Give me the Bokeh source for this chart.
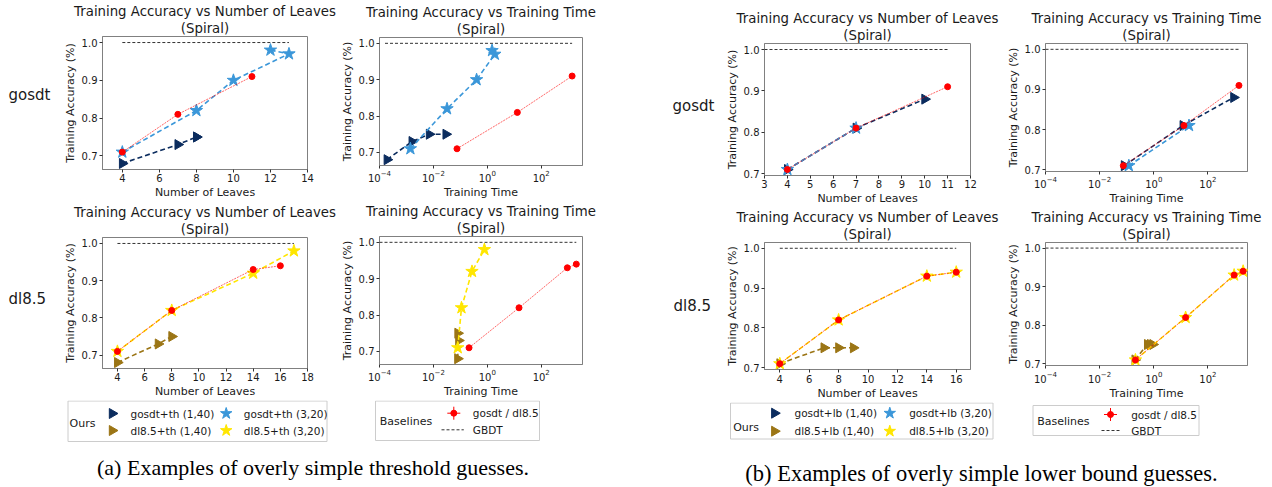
import numpy as np
from bokeh.plotting import figure
from bokeh.layouts import row, column
from bokeh.models import Range1d, FixedTicker, PrintfTickFormatter, Title
from bokeh.core.properties import value
from bokeh.embed import file_html
from bokeh.resources import INLINE

# ---------------- data ----------------
# baselines (shared by both groups)
gosdt_base_leaves = [4, 7, 11]
gosdt_base_acc = [0.71, 0.81, 0.91]
gosdt_base_time = [0.075, 13, 1400]
dl85_base_leaves = [4, 8, 14, 16]
dl85_base_acc = [0.71, 0.82, 0.93, 0.94]
dl85_base_time = [0.21, 15, 930, 2000]

# (a) threshold guesses
gosdt_th140_leaves = [4, 7, 8, 8]
gosdt_th140_acc = [0.68, 0.73, 0.75, 0.75]
gosdt_th140_time = [1.9e-4, 1.6e-3, 7e-3, 0.029]
gosdt_th320_leaves = [4, 8, 10, 13, 12]
gosdt_th320_acc = [0.71, 0.82, 0.90, 0.97, 0.98]
gosdt_th320_time = [1.4e-3, 0.032, 0.4, 1.9, 1.5]
dl85_th140_leaves = [4, 7, 8]
dl85_th140_acc = [0.68, 0.73, 0.75]
dl85_th140_time = [0.079, 0.086, 0.080]
dl85_th320_leaves = [4, 8, 14, 17]
dl85_th320_acc = [0.71, 0.82, 0.92, 0.98]
dl85_th320_time = [0.080, 0.11, 0.27, 0.78]

# (b) lower bound guesses
gosdt_lb140_leaves = [4, 7, 10]
gosdt_lb140_acc = [0.71, 0.81, 0.88]
gosdt_lb140_time = [0.081, 12, 890]
gosdt_lb320_leaves = [4, 7]
gosdt_lb320_acc = [0.71, 0.81]
gosdt_lb320_time = [0.12, 20]
dl85_lb140_leaves = [4, 7, 8, 9]
dl85_lb140_acc = [0.71, 0.75, 0.75, 0.75]
dl85_lb140_time = [0.2, 0.58, 0.75, 0.92]
dl85_lb320_leaves = [4, 8, 14, 16]
dl85_lb320_acc = [0.71, 0.82, 0.93, 0.94]
dl85_lb320_time = [0.21, 15, 930, 2000]

# GBDT reference accuracy and its horizontal extent per panel
gbdt_acc = 1.0
gbdt_a_leaves_top = [4, 13]
gbdt_a_time_top = [1.6e-4, 1400]
gbdt_a_leaves_bot = [4, 17]
gbdt_a_time_bot = [1e-4, 2000]
gbdt_b_leaves_top = [3, 11]
gbdt_b_time_top = [1e-4, 1400]
gbdt_b_leaves_bot = [4, 16]
gbdt_b_time_bot = [1e-4, 2000]

acc_ticks = [0.7, 0.8, 0.9, 1.0]
time_ticks = [1e-4, 1e-2, 1, 1e2]

# ---------------- styles ----------------
FONT = "DejaVu Sans"
TXT = "#1a1a1a"
NAVY = "#0b2c5e"
SKY = "#3b97d9"
BROWN = "#9b7515"
YELLOW = "#ffe600"
RED = "#ff0000"
SPINE = "#808080"

T_LEAVES = "Training Accuracy vs Number of Leaves"
T_TIME = "Training Accuracy vs Training Time"


def panel(w, h, borders, xr, yr, xlog, xticks, title, xlabel, series, gbdt_x, xstand=(1, 1)):
    l, r, t, b = borders
    p = figure(width=w, height=h, x_range=Range1d(*xr), y_range=Range1d(*yr),
               x_axis_type="log" if xlog else "linear", title=None,
               output_backend="svg", toolbar_location=None,
               min_border_left=l, min_border_right=r, min_border_top=t, min_border_bottom=b)
    p.add_layout(Title(text="(Spiral)", align="center", text_font=FONT, text_font_size="13.3px",
                       text_font_style="normal", text_color=TXT, standoff=1), "above")
    p.add_layout(Title(text=title, align="center", text_font=FONT, text_font_size="13.3px",
                       text_font_style="normal", text_color=TXT, standoff=0), "above")
    p.grid.visible = False
    p.outline_line_color = SPINE
    p.outline_line_width = 1
    p.background_fill_color = "white"
    p.border_fill_color = None
    p.xaxis.axis_label = xlabel
    p.yaxis.axis_label = "Training Accuracy (%)"
    p.yaxis.ticker = FixedTicker(ticks=acc_ticks)
    p.yaxis.formatter = PrintfTickFormatter(format="%.1f")
    p.xaxis.ticker = FixedTicker(ticks=xticks)
    for ax in (p.xaxis[0], p.yaxis[0]):
        ax.major_label_text_font = FONT
        ax.major_label_text_font_size = "10px"
        ax.major_label_text_color = TXT
        ax.axis_label_text_font = FONT
        ax.axis_label_text_font_size = "11px"
        ax.axis_label_text_font_style = "normal"
        ax.axis_label_text_color = TXT
        ax.major_tick_out = 3
        ax.major_tick_in = 0
        ax.minor_tick_out = 0
        ax.minor_tick_in = 0
        ax.axis_line_color = SPINE
        ax.major_tick_line_color = "#333333"
    p.yaxis.major_label_standoff = 2
    p.yaxis.axis_label_standoff = 2
    p.xaxis.major_label_standoff = xstand[0]
    p.xaxis.axis_label_standoff = xstand[1]
    # GBDT
    p.line(gbdt_x, [gbdt_acc] * len(gbdt_x), line_color="#333333", line_width=1, line_dash="3 2")
    for (xs, ys, kind) in series:
        if kind in ("tri_navy", "tri_brown"):
            c = NAVY if kind == "tri_navy" else BROWN
            p.line(xs, ys, line_color=c, line_width=1.6, line_dash="5 3")
            p.scatter(xs, ys, marker="triangle", size=10, angle=-np.pi / 2,
                      fill_color=c, line_color=c)
        elif kind in ("star_sky", "star_yellow"):
            c = SKY if kind == "star_sky" else YELLOW
            p.line(xs, ys, line_color=c, line_width=1.6, line_dash="5 3")
            p.scatter(xs, ys, marker="star", size=13, fill_color=c, line_color=c)
        else:
            p.line(xs, ys, line_color=RED, line_width=1, line_dash="2 1", line_alpha=0.6)
            p.scatter(xs, ys, marker="circle", size=6, fill_color=RED, line_color=RED)
    return p


YR_A = (0.664, 1.016)
YR_B = (0.6955, 1.0145)
XT_MAX_A = 3400
XT_MAX_B = 2900

# group (a): lab 60 | 277 | 263  -> x 0..600 ; panels y 0..400, legend/caption 400..486
a_tl = panel(277, 201, (40, 30, 36, 30), (2.93, 14.0), YR_A, False, [4, 6, 8, 10, 12, 14],
             T_LEAVES, "Number of Leaves",
             [(gosdt_th140_leaves, gosdt_th140_acc, "tri_navy"),
              (gosdt_th320_leaves, gosdt_th320_acc, "star_sky"),
              (gosdt_base_leaves, gosdt_base_acc, "base")], gbdt_a_leaves_top)
a_tr = panel(263, 201, (41, 18, 37, 30), (1e-4, XT_MAX_A), YR_A, True, time_ticks,
             T_TIME, "Training Time",
             [(gosdt_th140_time, gosdt_th140_acc, "tri_navy"),
              (gosdt_th320_time, gosdt_th320_acc, "star_sky"),
              (gosdt_base_time, gosdt_base_acc, "base")], gbdt_a_time_top)
a_bl = panel(277, 199, (40, 30, 36, 30), (2.9, 18.0), YR_A, False, [4, 6, 8, 10, 12, 14, 16, 18],
             T_LEAVES, "Number of Leaves",
             [(dl85_th140_leaves, dl85_th140_acc, "tri_brown"),
              (dl85_th320_leaves, dl85_th320_acc, "star_yellow"),
              (dl85_base_leaves, dl85_base_acc, "base")], gbdt_a_leaves_bot)
a_br = panel(263, 199, (42, 15, 33, 32), (1e-4, XT_MAX_A), YR_A, True, time_ticks,
             T_TIME, "Training Time",
             [(dl85_th140_time, dl85_th140_acc, "tri_brown"),
              (dl85_th320_time, dl85_th320_acc, "star_yellow"),
              (dl85_base_time, dl85_base_acc, "base")], gbdt_a_time_bot)

# group (b): lab 120 | 283 | 268 -> x 600..1271 ; panels y 0..402, legend/caption 402..486
b_tl = panel(283, 207, (44, 33, 43, 30), (3.0, 12.0), YR_B, False, list(range(3, 13)),
             T_LEAVES, "Number of Leaves",
             [(gosdt_lb140_leaves, gosdt_lb140_acc, "tri_navy"),
              (gosdt_lb320_leaves, gosdt_lb320_acc, "star_sky"),
              (gosdt_base_leaves, gosdt_base_acc, "base")], gbdt_b_leaves_top)
b_tr = panel(268, 207, (39, 24, 43, 30), (1e-4, XT_MAX_B), YR_B, True, time_ticks,
             T_TIME, "Training Time",
             [(gosdt_lb140_time, gosdt_lb140_acc, "tri_navy"),
              (gosdt_lb320_time, gosdt_lb320_acc, "star_sky"),
              (gosdt_base_time, gosdt_base_acc, "base")], gbdt_b_time_top)
b_bl = panel(283, 195, (44, 33, 31, 31), (2.96, 16.97), YR_B, False, [4, 6, 8, 10, 12, 14, 16],
             T_LEAVES, "Number of Leaves",
             [(dl85_lb140_leaves, dl85_lb140_acc, "tri_brown"),
              (dl85_lb320_leaves, dl85_lb320_acc, "star_yellow"),
              (dl85_base_leaves, dl85_base_acc, "base")], gbdt_b_leaves_bot, xstand=(2, 1))
b_br = panel(268, 195, (39, 24, 31, 31), (1e-4, XT_MAX_B), YR_B, True, time_ticks,
             T_TIME, "Training Time",
             [(dl85_lb140_time, dl85_lb140_acc, "tri_brown"),
              (dl85_lb320_time, dl85_lb320_acc, "star_yellow"),
              (dl85_base_time, dl85_base_acc, "base")], gbdt_b_time_bot, xstand=(2, 1))


def blank(w, h, xr, yr):
    p = figure(width=w, height=h, x_range=Range1d(*xr), y_range=Range1d(*yr),
               x_axis_type=None, y_axis_type=None, output_backend="svg",
               toolbar_location=None, min_border=0, title=None)
    p.outline_line_color = None
    p.background_fill_color = None
    p.border_fill_color = None
    return p


# row labels (coordinates = page pixels, alphabetic baselines)
lab_a = blank(60, 400, (0, 60), (400, 0))
lab_a.text(x=[8, 8], y=[94, 298], text=["gosdt", "dl8.5"], text_font=value(FONT),
           text_font_size="15px", text_color=TXT, text_baseline="alphabetic", text_align="left")
lab_b = blank(120, 402, (600, 720), (402, 0))
lab_b.text(x=[672, 673], y=[105, 305], text=["gosdt", "dl8.5"], text_font=value(FONT),
           text_font_size="15px", text_color=TXT, text_baseline="alphabetic", text_align="left")

LEG = "10.5px"


def ours_legend(p, x0, y_ours, r1, r2, m1, t1, m2, t2, suffix):
    p.text(x=[x0], y=[y_ours], text=["Ours"], text_font=value(FONT), text_font_size="11px",
           text_color=TXT, text_baseline="middle")
    p.scatter([m1], [r1], marker="triangle", size=10, angle=-np.pi / 2, color=NAVY)
    p.scatter([m1], [r2], marker="triangle", size=10, angle=-np.pi / 2, color=BROWN)
    p.scatter([m2], [r1], marker="star", size=12, color=SKY)
    p.scatter([m2], [r2], marker="star", size=12, color=YELLOW)
    p.text(x=[t1, t1, t2, t2], y=[r1, r2, r1, r2],
           text=[f"gosdt+{suffix} (1,40)", f"dl8.5+{suffix} (1,40)",
                 f"gosdt+{suffix} (3,20)", f"dl8.5+{suffix} (3,20)"],
           text_font=value(FONT), text_font_size=LEG, text_color=TXT, text_baseline="middle")


def base_legend(p, x0, yb, mx, ry1, ry2, tx, gx0, gx1):
    p.text(x=[x0], y=[yb], text=["Baselines"], text_font=value(FONT), text_font_size="11px",
           text_color=TXT, text_baseline="middle")
    p.scatter([mx], [ry1], marker="cross", size=13, line_color=RED, line_width=1)
    p.scatter([mx], [ry1], marker="circle", size=6, color=RED)
    p.line([gx0, gx1], [ry2, ry2], line_color="#333333", line_width=1, line_dash="3 2")
    p.text(x=[tx, tx], y=[ry1, ry2], text=["gosdt / dl8.5", "GBDT"], text_font=value(FONT),
           text_font_size=LEG, text_color=TXT, text_baseline="middle")


# legends + captions (coordinates = page pixels)
bot_a = blank(600, 86, (0, 600), (486, 400))
bot_a.quad(left=[67.5, 375], right=[326.5, 539], top=[400.5, 400.5], bottom=[441, 440],
           fill_color="white", line_color="#cccccc", line_width=1)
ours_legend(bot_a, 69, 423, 413, 430, 111.7, 130, 225.7, 243.3, "th")
base_legend(bot_a, 379.3, 420.7, 453.3, 412.7, 429.3, 472.3, 441, 463.3)
bot_a.text(x=[312.5], y=[467], text=["(a) Examples of overly simple threshold guesses."],
           text_font=value("Liberation Serif"), text_font_size="22px", text_color="#000000",
           text_align="center", text_baseline="middle")

bot_b = blank(671, 84, (600, 1271), (486, 402))
bot_b.quad(left=[730, 1032.5], right=[992.5, 1198.5], top=[402.5, 405], bottom=[438.5, 435],
           fill_color="white", line_color="#cccccc", line_width=1)
ours_legend(bot_b, 732.7, 426.7, 412.7, 430.7, 774, 794, 889.3, 908.7, "lb")
base_legend(bot_b, 1036.7, 420.7, 1110, 414, 430, 1130.7, 1101, 1119.3)
bot_b.text(x=[981], y=[472.5], text=["(b) Examples of overly simple lower bound guesses."],
           text_font=value("Liberation Serif"), text_font_size="22.5px", text_color="#000000",
           text_align="center", text_baseline="middle")

group_a = column(row(lab_a, column(a_tl, a_bl), column(a_tr, a_br)), bot_a)
group_b = column(row(lab_b, column(b_tl, b_bl), column(b_tr, b_br)), bot_b)
layout = row(group_a, group_b)

open("out.html", "w").write(file_html(layout, INLINE))
